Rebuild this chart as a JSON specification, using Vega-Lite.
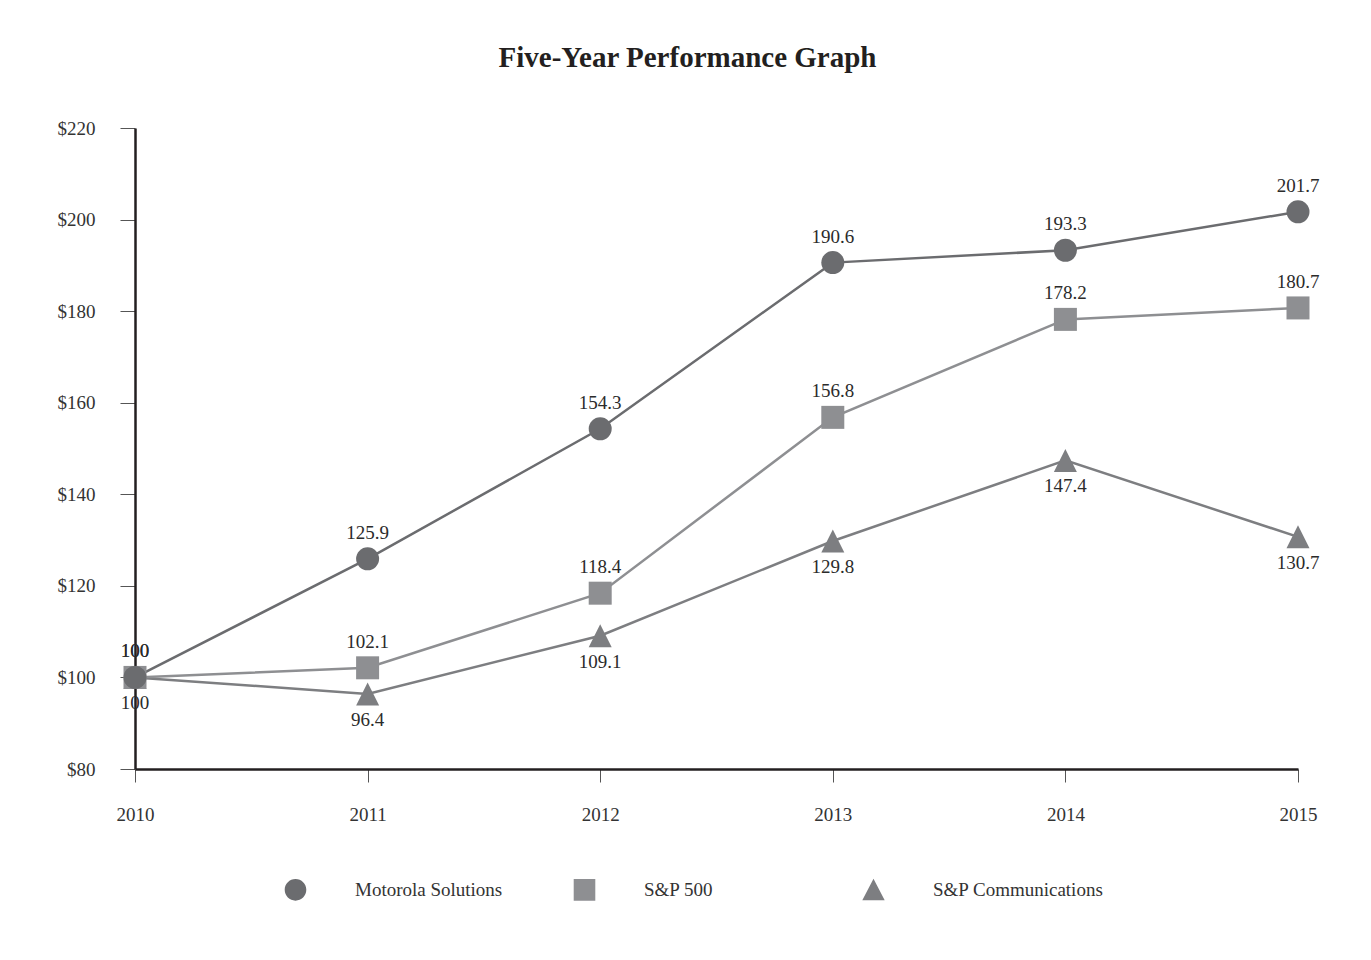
{
  "$schema": "https://vega.github.io/schema/vega-lite/v6.json",
  "width": 1163,
  "height": 641,
  "autosize": {"type": "none"},
  "padding": {"left": 135, "top": 128, "right": 73, "bottom": 191},
  "background": "white",
  "title": {
    "text": "Five-Year Performance Graph",
    "font": "Liberation Serif",
    "fontSize": 29,
    "fontWeight": "bold",
    "color": "#231f20",
    "anchor": "middle",
    "frame": "group",
    "dx": -29,
    "offset": 46
  },
  "config": {
    "view": {"stroke": null},
    "font": "Liberation Serif"
  },
  "data": {
    "values": [
      {"year": "2010", "series": "S&P Communications", "value": 100},
      {"year": "2011", "series": "S&P Communications", "value": 96.4},
      {"year": "2012", "series": "S&P Communications", "value": 109.1},
      {"year": "2013", "series": "S&P Communications", "value": 129.8},
      {"year": "2014", "series": "S&P Communications", "value": 147.4},
      {"year": "2015", "series": "S&P Communications", "value": 130.7},
      {"year": "2010", "series": "S&P 500", "value": 100},
      {"year": "2011", "series": "S&P 500", "value": 102.1},
      {"year": "2012", "series": "S&P 500", "value": 118.4},
      {"year": "2013", "series": "S&P 500", "value": 156.8},
      {"year": "2014", "series": "S&P 500", "value": 178.2},
      {"year": "2015", "series": "S&P 500", "value": 180.7},
      {"year": "2010", "series": "Motorola Solutions", "value": 100},
      {"year": "2011", "series": "Motorola Solutions", "value": 125.9},
      {"year": "2012", "series": "Motorola Solutions", "value": 154.3},
      {"year": "2013", "series": "Motorola Solutions", "value": 190.6},
      {"year": "2014", "series": "Motorola Solutions", "value": 193.3},
      {"year": "2015", "series": "Motorola Solutions", "value": 201.7}
    ]
  },
  "encoding": {
    "x": {
      "field": "year",
      "type": "ordinal",
      "scale": {"type": "point", "padding": 0},
      "axis": {
        "title": null,
        "labelAngle": 0,
        "labelFont": "Liberation Serif",
        "labelFontSize": 19,
        "labelColor": "#333333",
        "labelPadding": 23,
        "domainColor": "#231f20",
        "domainWidth": 2.5,
        "tickColor": "#555555",
        "tickWidth": 1,
        "tickSize": 13,
        "grid": false
      }
    },
    "y": {
      "field": "value",
      "type": "quantitative",
      "scale": {"domain": [80, 220], "nice": false, "zero": false},
      "axis": {
        "title": null,
        "values": [80, 100, 120, 140, 160, 180, 200, 220],
        "labelExpr": "'$' + datum.value",
        "labelFont": "Liberation Serif",
        "labelFontSize": 19,
        "labelColor": "#333333",
        "labelPadding": 25,
        "domainColor": "#231f20",
        "domainWidth": 2.5,
        "tickColor": "#555555",
        "tickWidth": 1,
        "tickSize": 15,
        "grid": false
      }
    }
  },
  "layer": [
    {
      "mark": {"type": "point", "filled": true, "opacity": 1, "size": 0},
      "encoding": {
        "color": {
          "field": "series",
          "type": "nominal",
          "scale": {
            "domain": ["Motorola Solutions", "S&P 500", "S&P Communications"],
            "range": ["#6b6c6f", "#8e8f92", "#7d7e81"]
          },
          "legend": {
            "title": null,
            "orient": "none",
            "legendX": 119,
            "legendY": 720,
            "direction": "horizontal",
            "columns": 3,
            "gridAlign": "all",
            "columnPadding": 13,
            "padding": 0,
            "symbolSize": 6400,
            "symbolOpacity": 1,
            "symbolStrokeColor": "#838487",
            "symbolStrokeWidth": 2.5,
            "labelOffset": 18,
            "labelFont": "Liberation Serif",
            "labelFontSize": 19,
            "labelColor": "#333333",
            "labelLimit": 400
          }
        },
        "shape": {
          "field": "series",
          "type": "nominal",
          "scale": {
            "domain": ["Motorola Solutions", "S&P 500", "S&P Communications"],
            "range": [
              "M-1,0L1,0M0.27,0A0.27,0.27,0,1,1,-0.27,0A0.27,0.27,0,1,1,0.27,0Z",
              "M-1,0L1,0M-0.27,-0.27L0.27,-0.27L0.27,0.27L-0.27,0.27Z",
              "M-1,0L1,0M0,-0.29L0.28,0.25L-0.28,0.25Z"
            ]
          }
        }
      }
    },
    {
      "transform": [{"filter": "datum.series === 'S&P Communications'"}],
      "mark": {"type": "line", "strokeWidth": 2.5, "color": "#7d7e81"},
      "encoding": {}
    },
    {
      "transform": [{"filter": "datum.series === 'S&P 500'"}],
      "mark": {"type": "line", "strokeWidth": 2.5, "color": "#8e8f92"},
      "encoding": {}
    },
    {
      "transform": [{"filter": "datum.series === 'Motorola Solutions'"}],
      "mark": {"type": "line", "strokeWidth": 2.5, "color": "#6b6c6f"},
      "encoding": {}
    },
    {
      "transform": [{"filter": "datum.series === 'S&P Communications'"}],
      "mark": {"type": "point", "filled": true, "opacity": 1, "size": 529, "shape": "M0,-1L1,1L-1,1Z", "color": "#7d7e81"}
    },
    {
      "transform": [{"filter": "datum.series === 'S&P 500'"}],
      "mark": {"type": "point", "filled": true, "opacity": 1, "size": 529, "shape": "square", "color": "#8e8f92"}
    },
    {
      "transform": [{"filter": "datum.series === 'Motorola Solutions'"}],
      "mark": {"type": "point", "filled": true, "opacity": 1, "size": 529, "shape": "circle", "color": "#6b6c6f"}
    },
    {
      "transform": [{"filter": "datum.series !== 'S&P Communications'"}],
      "mark": {"type": "text", "dy": -26, "font": "Liberation Serif", "fontSize": 19, "color": "#2b2b2b", "baseline": "middle"},
      "encoding": {"text": {"field": "value", "type": "quantitative"}}
    },
    {
      "transform": [{"filter": "datum.series === 'S&P Communications'"}],
      "mark": {"type": "text", "dy": 26, "font": "Liberation Serif", "fontSize": 19, "color": "#2b2b2b", "baseline": "middle"},
      "encoding": {"text": {"field": "value", "type": "quantitative"}}
    }
  ]
}
